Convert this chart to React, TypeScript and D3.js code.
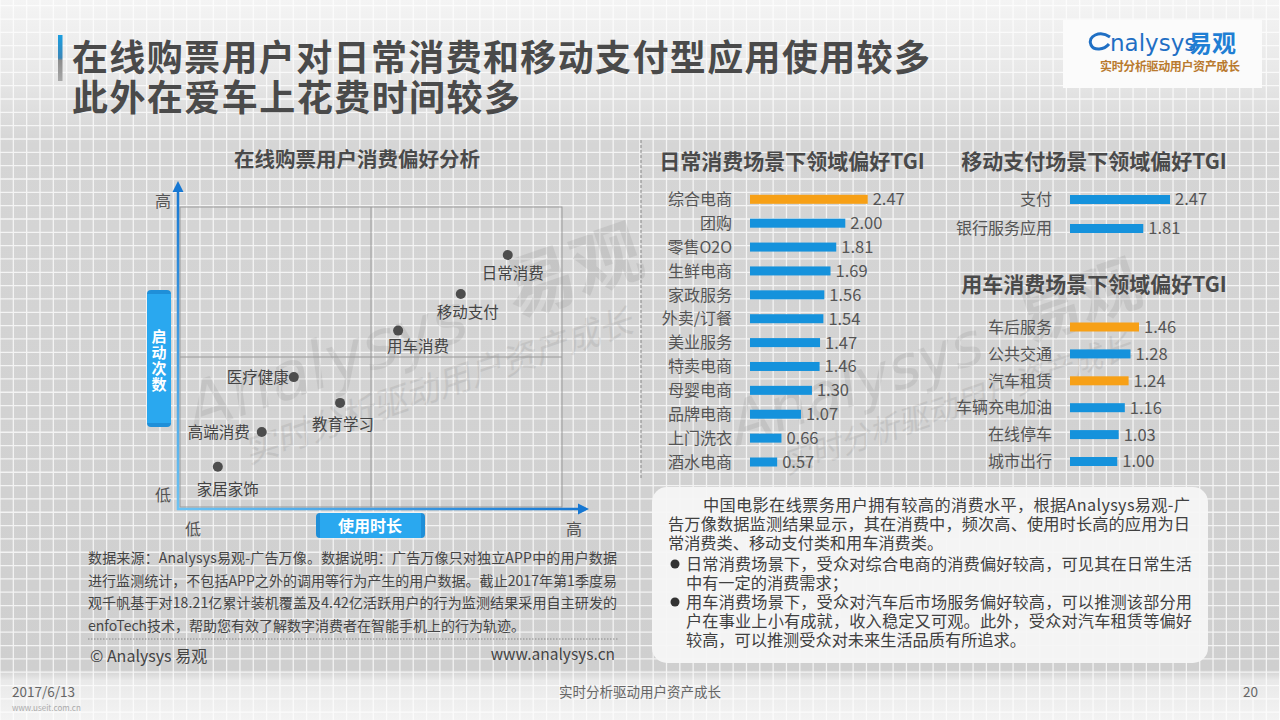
import * as d3 from "d3";

// scatter: 使用时长 (x) vs 启动次数 (y), qualitative 0-10 scores
const scatterNames = ["日常消费", "移动支付", "用车消费", "医疗健康", "教育学习", "高端消费", "家居家饰"];
const usageTime = [8.58, 7.35, 5.71, 2.98, 4.19, 2.14, 0.99];
const launchCount = [8.4, 7.1, 5.88, 4.33, 3.47, 2.5, 1.34];
const levelLabels = ["低", "高"];

const dailyCats = ["综合电商", "团购", "零售O2O", "生鲜电商", "家政服务", "外卖/订餐", "美业服务", "特卖电商", "母婴电商", "品牌电商", "上门洗衣", "酒水电商"];
const dailyTGI = [2.47, 2.0, 1.81, 1.69, 1.56, 1.54, 1.47, 1.46, 1.3, 1.07, 0.66, 0.57];

const payCats = ["支付", "银行服务应用"];
const payTGI = [2.47, 1.81];

const carCats = ["车后服务", "公共交通", "汽车租赁", "车辆充电加油", "在线停车", "城市出行"];
const carTGI = [1.46, 1.28, 1.24, 1.16, 1.03, 1.0];

const summaryLines = [
  "中国电影在线票务用户拥有较高的消费水平，根据Analysys易观-广",
  "告万像数据监测结果显示，其在消费中，频次高、使用时长高的应用为日",
  "常消费类、移动支付类和用车消费类。",
  "日常消费场景下，受众对综合电商的消费偏好较高，可见其在日常生活",
  "中有一定的消费需求；",
  "用车消费场景下，受众对汽车后市场服务偏好较高，可以推测该部分用",
  "户在事业上小有成就，收入稳定又可观。此外，受众对汽车租赁等偏好",
  "较高，可以推测受众对未来生活品质有所追求。",
];

const noteLines = [
  "数据来源：Analysys易观-广告万像。数据说明：广告万像只对独立APP中的用户数据",
  "进行监测统计，不包括APP之外的调用等行为产生的用户数据。截止2017年第1季度易",
  "观千帆基于对18.21亿累计装机覆盖及4.42亿活跃用户的行为监测结果采用自主研发的",
  "enfoTech技术，帮助您有效了解数字消费者在智能手机上的行为轨迹。",
];

const FONT = "'Noto Sans CJK SC', 'Microsoft YaHei', sans-serif";
const BLUE = "#1592dc";
const ORANGE = "#f7a016";
const highlighted = new Set(["综合电商", "车后服务", "汽车租赁"]);

// label placement relative to dot: [dx, dy, anchor]
const labelPlace: Record<string, [number, number, string]> = {
  日常消费: [5, 18, "middle"],
  移动支付: [7, 18, "middle"],
  用车消费: [20, 16, "middle"],
  医疗健康: [-5, 0, "end"],
  教育学习: [3, 22, "middle"],
  高端消费: [-12, 0, "end"],
  家居家饰: [10, 23, "middle"],
};

type BarProps = {
  cats: string[];
  values: number[];
  x: d3.ScaleLinear<number, number>;
  y: d3.ScalePoint<string>;
  labelX: number;
};

function BarBlock({ cats, values, x, y, labelX }: BarProps) {
  return (
    <g>
      {cats.map((c, i) => {
        const cy = y(c) ?? 0;
        const v = values[i];
        return (
          <g key={c}>
            <text x={labelX} y={cy} dy="0.36em" textAnchor="end" fontSize={16} fill="#555">
              {c}
            </text>
            <rect x={x(0)} y={cy - 4.5} width={x(v) - x(0)} height={9} fill={highlighted.has(c) ? ORANGE : BLUE} />
            <text x={x(v) + 5} y={cy} dy="0.36em" fontSize={16.5} fill="#555">
              {v.toFixed(2)}
            </text>
          </g>
        );
      })}
    </g>
  );
}

function Watermark({ x, y, scale = 1 }: { x: number; y: number; scale?: number }) {
  return (
    <g transform={`translate(${x},${y}) rotate(-19) scale(${scale})`} opacity={0.08} fill="#222">
      <text x={-190} y={0} fontSize={66} fontFamily="Verdana, 'DejaVu Sans', sans-serif" fontStyle="italic">
        Analysys
      </text>
      <text x={150} y={-4} fontSize={70} fontWeight={700}>
        易观
      </text>
      <text x={-150} y={48} fontSize={34} fontStyle="italic">
        实时分析驱动用户资产成长
      </text>
    </g>
  );
}

export default function App() {
  const W = 1280;
  const H = 720;

  // grid background
  const step = 13.33;
  const vLines = d3.range(0, W + step, step);
  const hLines = d3.range(5.7, H, step);

  // scatter scales
  const xs = d3.scaleLinear().domain([0, 10]).range([180, 562]);
  const ys = d3.scaleLinear().domain([0, 10]).range([507, 207]);
  const midX = xs(5);
  const midY = ys(5);

  // bar scales
  const dailyX = d3.scaleLinear().domain([0, 2.47]).range([750, 867.7]);
  const dailyY = d3.scalePoint<string>().domain(dailyCats).range([199.3, 462]);
  const payX = d3.scaleLinear().domain([0, 2.47]).range([1070, 1170]);
  const payY = d3.scalePoint<string>().domain(payCats).range([199.5, 228.5]);
  const carX = d3.scaleLinear().domain([0, 1.46]).range([1070, 1139]);
  const carY = d3.scalePoint<string>().domain(carCats).range([327, 461.5]);

  const summaryX = [703, 668, 668, 686, 686, 686, 686, 686];
  const summaryLen: (number | undefined)[] = [487, 522, undefined, 506, undefined, 506, 506, undefined];
  const summaryY = [511, 530, 549, 570, 589, 608, 627, 646];

  return (
    <svg
      width={W}
      height={H}
      viewBox={`0 0 ${W} ${H}`}
      style={{ position: "absolute", left: 0, top: 0, display: "block" }}
      fontFamily={FONT}
    >
      <defs>
        <linearGradient id="bg" x1="0" y1="0" x2="0" y2="1">
          <stop offset="0" stopColor="#f4f4f4" />
          <stop offset="0.1" stopColor="#e8e8e8" />
          <stop offset="0.2" stopColor="#d5d5d5" />
          <stop offset="0.93" stopColor="#cfcfcf" />
          <stop offset="0.945" stopColor="#e9e9e9" />
          <stop offset="1" stopColor="#f3f3f3" />
        </linearGradient>
        <linearGradient id="yAxisGrad" gradientUnits="userSpaceOnUse" x1={178} y1={510} x2={178} y2={185}>
          <stop offset="0" stopColor="#6cc3f3" />
          <stop offset="1" stopColor="#1677d2" />
        </linearGradient>
        <linearGradient id="xAxisGrad" gradientUnits="userSpaceOnUse" x1={177} y1={509} x2={585} y2={509}>
          <stop offset="0" stopColor="#6cc3f3" />
          <stop offset="1" stopColor="#1677d2" />
        </linearGradient>
        <linearGradient id="accent" x1="0" y1="0" x2="0" y2="1">
          <stop offset="0" stopColor="#1a9ee0" />
          <stop offset="0.5" stopColor="#3a86b8" />
          <stop offset="0.55" stopColor="#8c8c8c" />
          <stop offset="1" stopColor="#a8a8a8" />
        </linearGradient>
      </defs>

      <rect x={0} y={0} width={W} height={H} fill="url(#bg)" />
      <g stroke="#ffffff" strokeWidth={1.3} opacity={0.75}>
        {vLines.map((x) => (
          <line key={`v${x}`} x1={x} y1={0} x2={x} y2={H} />
        ))}
        {hLines.map((y) => (
          <line key={`h${y}`} x1={0} y1={y} x2={W} y2={y} />
        ))}
      </g>

      {/* title */}
      <rect x={58} y={35} width={4.5} height={46} fill="url(#accent)" />
      <text x={72} y={71} fontSize={36} fontWeight={700} fill="#4a4a4a" textLength={858} lengthAdjust="spacing">
        在线购票用户对日常消费和移动支付型应用使用较多
      </text>
      <text x={72} y={111} fontSize={36} fontWeight={700} fill="#4a4a4a" textLength={448} lengthAdjust="spacing">
        此外在爱车上花费时间较多
      </text>

      {/* logo */}
      <rect x={1063} y={20} width={199} height={68} fill="#fbfbfb" />
      <path d="M1110,37 C1100,30 1087,36 1091,45 C1094,51 1104,50 1109,44" fill="none" stroke="#1f6fc4" strokeWidth={3} />
      <text x={1110} y={51} fontSize={23} fill="#1f6fc4" fontFamily="Verdana, 'DejaVu Sans', sans-serif">
        nalysys
      </text>
      <text x={1188} y={52} fontSize={24} fontWeight={700} fill="#1f7fd4">
        易观
      </text>
      <text x={1100} y={71} fontSize={12} fill="#b97a2e" fontWeight={700} textLength={140} lengthAdjust="spacing">
        实时分析驱动用户资产成长
      </text>

      {/* watermarks */}
      <Watermark x={375} y={370} />
      <Watermark x={900} y={390} scale={0.9} />

      {/* dashed separator */}
      <line x1={641} y1={140} x2={641} y2={480} stroke="#888" strokeDasharray="3,2" />

      {/* scatter */}
      <text x={357} y={160} dy="0.36em" textAnchor="middle" fontSize={20.5} fontWeight={700} fill="#4a4a4a">
        在线购票用户消费偏好分析
      </text>
      <rect x={xs(0)} y={ys(10)} width={xs(10) - xs(0)} height={ys(0) - ys(10)} fill="none" stroke="#9a9a9a" />
      <line x1={midX} y1={ys(10)} x2={midX} y2={ys(0)} stroke="#9a9a9a" />
      <line x1={xs(0)} y1={midY} x2={xs(10)} y2={midY} stroke="#9a9a9a" />

      <line x1={178} y1={510} x2={178} y2={189} stroke="url(#yAxisGrad)" strokeWidth={2.5} />
      <path d="M178,181 L172.5,192 L183.5,192 Z" fill="#1677d2" />
      <line x1={177} y1={509} x2={580} y2={509} stroke="url(#xAxisGrad)" strokeWidth={2.5} />
      <path d="M589,509 L578,503.5 L578,514.5 Z" fill="#1677d2" />

      <text x={163} y={201} dy="0.36em" textAnchor="middle" fontSize={16} fill="#555">
        {levelLabels[1]}
      </text>
      <text x={163} y={495} dy="0.36em" textAnchor="middle" fontSize={16} fill="#555">
        {levelLabels[0]}
      </text>
      <text x={193} y={529} dy="0.36em" textAnchor="middle" fontSize={16} fill="#555">
        {levelLabels[0]}
      </text>
      <text x={574} y={529} dy="0.36em" textAnchor="middle" fontSize={16} fill="#555">
        {levelLabels[1]}
      </text>

      <rect x={147} y={290} width={24} height={137} rx={4} fill="#1f8fd8" />
      <rect x={147} y={294} width={24} height={129} fill="#2aa8ef" />
      <text
        x={159}
        y={361}
        textAnchor="middle"
        fontSize={15}
        fontWeight={700}
        fill="#fff"
        letterSpacing={1}
        style={{ writingMode: "vertical-rl" }}
      >
        启动次数
      </text>
      <rect x={316} y={513} width={109} height={25} rx={4} fill="#1f8fd8" />
      <rect x={320} y={513} width={101} height={25} fill="#2aa8ef" />
      <text x={370} y={526} dy="0.36em" textAnchor="middle" fontSize={16} fontWeight={700} fill="#fff">
        使用时长
      </text>

      {scatterNames.map((n, i) => {
        const cx = xs(usageTime[i]);
        const cy = ys(launchCount[i]);
        const [dx, dy, anchor] = labelPlace[n];
        return (
          <g key={n}>
            <circle cx={cx} cy={cy} r={5} fill="#4d4d4d" />
            <text
              x={cx + dx}
              y={cy + dy}
              dy="0.36em"
              textAnchor={anchor as "start" | "middle" | "end"}
              fontSize={15.5}
              fill="#444"
            >
              {n}
            </text>
          </g>
        );
      })}

      {/* bar charts */}
      <text x={792} y={161} dy="0.36em" textAnchor="middle" fontSize={21} fontWeight={700} fill="#4a4a4a">
        日常消费场景下领域偏好TGI
      </text>
      <BarBlock cats={dailyCats} values={dailyTGI} x={dailyX} y={dailyY} labelX={732} />

      <text x={1094} y={161} dy="0.36em" textAnchor="middle" fontSize={21} fontWeight={700} fill="#4a4a4a">
        移动支付场景下领域偏好TGI
      </text>
      <BarBlock cats={payCats} values={payTGI} x={payX} y={payY} labelX={1052} />

      <text x={1094} y={284} dy="0.36em" textAnchor="middle" fontSize={21} fontWeight={700} fill="#4a4a4a">
        用车消费场景下领域偏好TGI
      </text>
      <BarBlock cats={carCats} values={carTGI} x={carX} y={carY} labelX={1052} />

      {/* summary box */}
      <rect x={652} y={487} width={556} height={176} rx={15} fill="#f5f5f5" opacity={0.95} />
      {summaryLines.map((line, i) => (
        <text
          key={i}
          x={summaryX[i]}
          y={summaryY[i]}
          fontSize={16.2}
          fill="#404040"
          textLength={summaryLen[i]}
          lengthAdjust={summaryLen[i] ? "spacing" : undefined}
        >
          {line}
        </text>
      ))}
      <circle cx={675} cy={564} r={4.5} fill="#333" />
      <circle cx={675} cy={602} r={4.5} fill="#333" />

      {/* notes */}
      {noteLines.map((line, i) => (
        <text
          key={i}
          x={88}
          y={563 + i * 22.7}
          fontSize={14}
          fill="#454545"
          textLength={i < 3 ? 529 : undefined}
          lengthAdjust={i < 3 ? "spacing" : undefined}
        >
          {line}
        </text>
      ))}
      <line x1={88} y1={639} x2={618} y2={639} stroke="#888" strokeDasharray="1.5,1.5" />
      <text x={90} y={662} fontSize={16} fill="#444">
        © Analysys 易观
      </text>
      <text x={615} y={660} textAnchor="end" fontSize={15.5} fill="#444">
        www.analysys.cn
      </text>

      {/* footer */}
      <text x={12} y={697} fontSize={13.5} fill="#666">
        2017/6/13
      </text>
      <text x={640} y={697} textAnchor="middle" fontSize={13.5} fill="#666">
        实时分析驱动用户资产成长
      </text>
      <text x={1258} y={697} textAnchor="end" fontSize={13.5} fill="#666">
        20
      </text>
      <text x={12} y={711} fontSize={8} fill="#aaa">
        www.useit.com.cn
      </text>
    </svg>
  );
}
